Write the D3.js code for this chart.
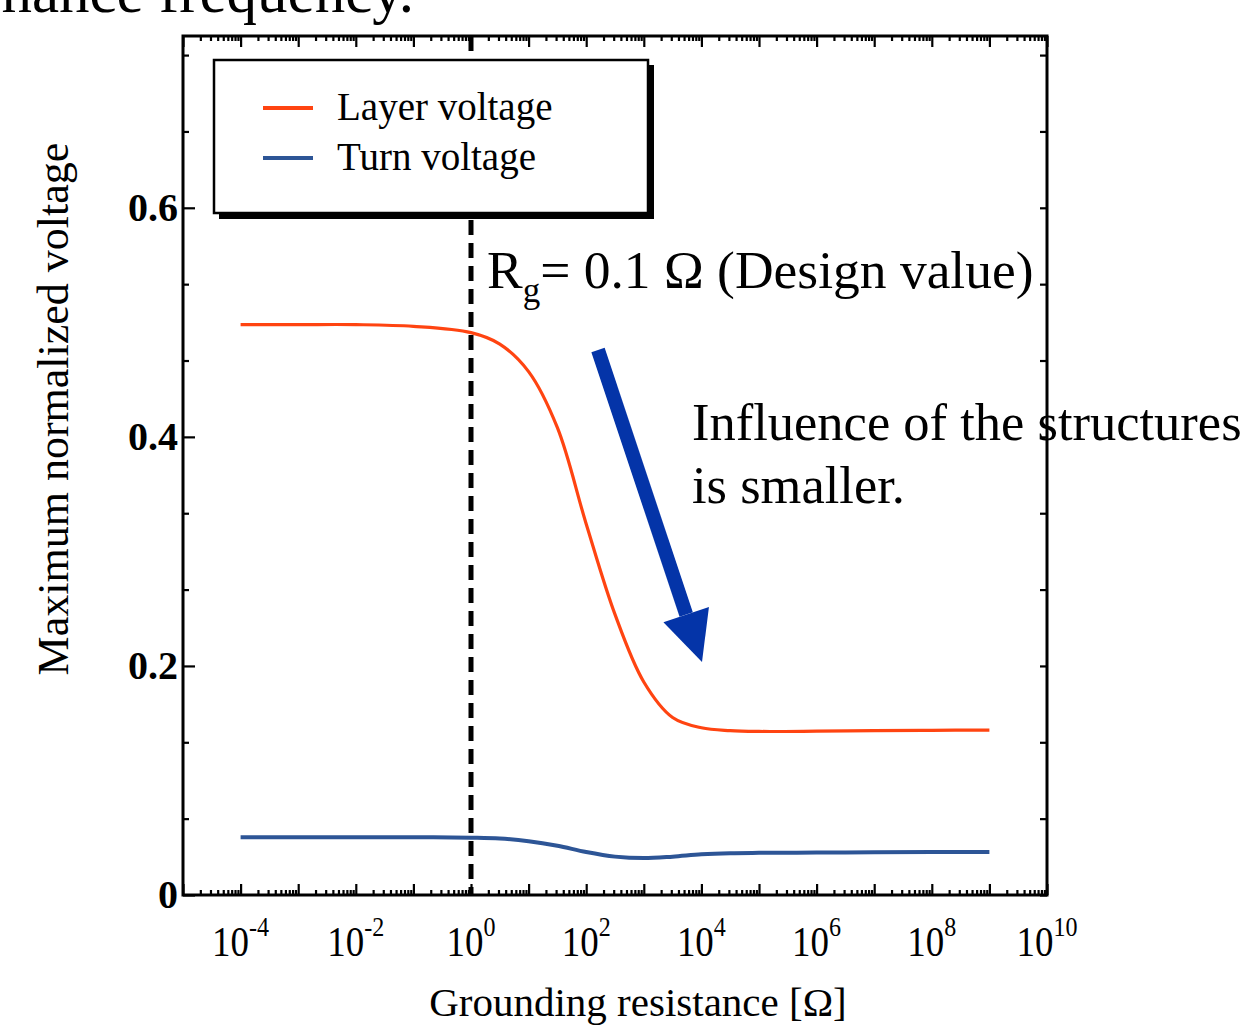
<!DOCTYPE html>
<html>
<head>
<meta charset="utf-8">
<script src="https://cdn.jsdelivr.net/npm/d3@7"></script>
<style>
  html, body { margin: 0; padding: 0; background: #fff; }
  svg { display: block; font-family: "Liberation Serif", "Times New Roman", serif; }
</style>
</head>
<body>
<svg id="chart" width="1255" height="1026"></svg>
<script>
// ---- Data ----
const resistance = [1e-4, 1e-3, 1e-2, 1e-1, 1e0, 3.162, 1e1, 31.62, 1e2, 316.2, 1e3, 3162, 1e4, 31620, 1e5, 1e6, 1e7, 1e8, 1e9];
const layerVoltage = [0.498, 0.498, 0.498, 0.4965, 0.491, 0.481, 0.457, 0.408, 0.324, 0.245, 0.186, 0.155, 0.146, 0.1435, 0.1428, 0.143, 0.1435, 0.1438, 0.144];
const turnVoltage  = [0.0505, 0.0505, 0.0505, 0.0504, 0.0500, 0.0493, 0.0470, 0.0430, 0.0375, 0.0335, 0.0322, 0.0335, 0.0355, 0.0365, 0.0368, 0.0370, 0.0373, 0.0375, 0.0375];
const seriesNames = ["Layer voltage", "Turn voltage"];
const seriesColors = ["#ff4411", "#2d5596"];
const xDecades = [-4, -2, 0, 2, 4, 6, 8, 10];
const yTicks = [0, 0.2, 0.4, 0.6];
const designValue = 1; // dashed marker position on the axis
const annotationText = "= 0.1 \u03A9 (Design value)";
const noteLines = ["Influence of the structures", "is smaller."];

// ---- Layout ----
const svg = d3.select("#chart");
const L = 183, R = 1047, T = 36, B = 895;
const x = d3.scaleLog().domain([1e-5, 1e10]).range([L, R]);
const y = d3.scaleLinear().domain([0, 0.75]).range([B, T]);

// top partial sentence (cut off in the reference)
svg.append("text").attr("x", 414).attr("y", 12).attr("text-anchor", "end")
  .attr("font-size", 61).text("nance frequency.");

// ticks
const decadeVals = d3.range(-5, 11).map(e => Math.pow(10, e));
const minorVals = [];
for (let e = -5; e < 10; e++) for (let m = 2; m <= 9; m++) minorVals.push(m * Math.pow(10, e));
const yMinor = d3.range(0, 0.75, 0.2 / 3).filter(v => !yTicks.some(t => Math.abs(t - v) < 1e-6));

function styleAxis(g) {
  g.select(".domain").remove();
  g.selectAll(".tick line").attr("stroke", "#000").attr("stroke-width", 2.2);
}
// bottom
svg.append("g").attr("transform", `translate(0,${B})`)
  .call(d3.axisBottom(x).tickValues(decadeVals).tickSize(-11).tickFormat(""))
  .call(styleAxis);
svg.append("g").attr("transform", `translate(0,${B})`)
  .call(d3.axisBottom(x).tickValues(minorVals).tickSize(-5).tickFormat(""))
  .call(styleAxis);
// top
svg.append("g").attr("transform", `translate(0,${T})`)
  .call(d3.axisTop(x).tickValues(decadeVals).tickSize(-11).tickFormat(""))
  .call(styleAxis);
svg.append("g").attr("transform", `translate(0,${T})`)
  .call(d3.axisTop(x).tickValues(minorVals).tickSize(-5).tickFormat(""))
  .call(styleAxis);
// left
svg.append("g").attr("transform", `translate(${L},0)`)
  .call(d3.axisLeft(y).tickValues(yTicks).tickSize(-12).tickFormat(""))
  .call(styleAxis);
svg.append("g").attr("transform", `translate(${L},0)`)
  .call(d3.axisLeft(y).tickValues(yMinor).tickSize(-6).tickFormat(""))
  .call(styleAxis);
// right
svg.append("g").attr("transform", `translate(${R},0)`)
  .call(d3.axisRight(y).tickValues(yTicks.concat(yMinor)).tickSize(-7).tickFormat(""))
  .call(styleAxis);

// frame
svg.append("rect").attr("x", L).attr("y", T).attr("width", R - L).attr("height", B - T)
  .attr("fill", "none").attr("stroke", "#000").attr("stroke-width", 3);

// x tick labels with superscripts
const xl = svg.append("g");
xDecades.forEach(e => {
  const cx = x(Math.pow(10, e));
  const t = xl.append("text").attr("x", cx).attr("y", 956)
    .attr("text-anchor", "middle").attr("font-size", 43)
    .attr("transform", `translate(${cx},0) scale(0.86,1) translate(${-cx},0)`);
  t.append("tspan").text("10");
  t.append("tspan").attr("font-size", 28).attr("dy", -20).text(String(e));
});

// y tick labels
svg.append("g").selectAll("text").data(yTicks).join("text")
  .attr("x", 178).attr("y", d => y(d) + 13).attr("text-anchor", "end")
  .attr("font-size", 40).attr("font-weight", "bold")
  .text(d => d === 0 ? "0" : d3.format(".1f")(d));

// axis titles
svg.append("text").attr("transform", `translate(68,409) rotate(-90)`)
  .attr("text-anchor", "middle").attr("font-size", 44).text("Maximum normalized voltage");
svg.append("text").attr("x", 638).attr("y", 1016).attr("text-anchor", "middle")
  .attr("font-size", 41).text("Grounding resistance [\u03A9]");

// series lines
const series = [layerVoltage, turnVoltage];
const line = d3.line().x((d, i) => x(resistance[i])).y(d => y(d)).curve(d3.curveCatmullRom.alpha(0.5));
series.forEach((vals, k) => {
  svg.append("path").datum(vals).attr("d", line)
    .attr("fill", "none").attr("stroke", seriesColors[k]).attr("stroke-width", k === 0 ? 3.2 : 4);
});

// design value dashed line
svg.append("line").attr("x1", x(designValue)).attr("x2", x(designValue))
  .attr("y1", T).attr("y2", B).attr("stroke", "#000").attr("stroke-width", 5)
  .attr("stroke-dasharray", "15,8");

// annotation R_g
const ann = svg.append("text").attr("x", 487).attr("y", 288).attr("font-size", 53.5);
ann.append("tspan").text("R");
ann.append("tspan").attr("font-size", 35).attr("dy", 14).text("g");
ann.append("tspan").attr("dy", -14).text(annotationText);

// note
noteLines.forEach((s, i) => {
  svg.append("text").attr("x", 692).attr("y", 440 + i * 63).attr("font-size", 52.5).text(s);
});

// blue arrow
const ax1 = 598, ay1 = 350, ax2 = 702, ay2 = 662;
const ang = Math.atan2(ay2 - ay1, ax2 - ax1);
const headLen = 50, headW = 48, shaftW = 14;
const bx = ax2 - headLen * Math.cos(ang), by = ay2 - headLen * Math.sin(ang);
const px = -Math.sin(ang), py = Math.cos(ang);
svg.append("line").attr("x1", ax1).attr("y1", ay1).attr("x2", bx).attr("y2", by)
  .attr("stroke", "#0434a8").attr("stroke-width", shaftW);
svg.append("path").attr("fill", "#0434a8")
  .attr("d", `M${ax2},${ay2} L${bx + px * headW / 2},${by + py * headW / 2} L${bx - px * headW / 2},${by - py * headW / 2} Z`);

// legend
const lg = svg.append("g");
lg.append("rect").attr("x", 219).attr("y", 65).attr("width", 435).attr("height", 154).attr("fill", "#000");
lg.append("rect").attr("x", 214).attr("y", 60).attr("width", 434).attr("height", 153)
  .attr("fill", "#fff").attr("stroke", "#000").attr("stroke-width", 2.5);
seriesNames.forEach((n, i) => {
  const yy = 108 + i * 50;
  lg.append("line").attr("x1", 263).attr("x2", 313).attr("y1", yy).attr("y2", yy)
    .attr("stroke", seriesColors[i]).attr("stroke-width", 4);
  lg.append("text").attr("x", 337).attr("y", yy + 12).attr("font-size", 39).text(n);
});
</script>
</body>
</html>
